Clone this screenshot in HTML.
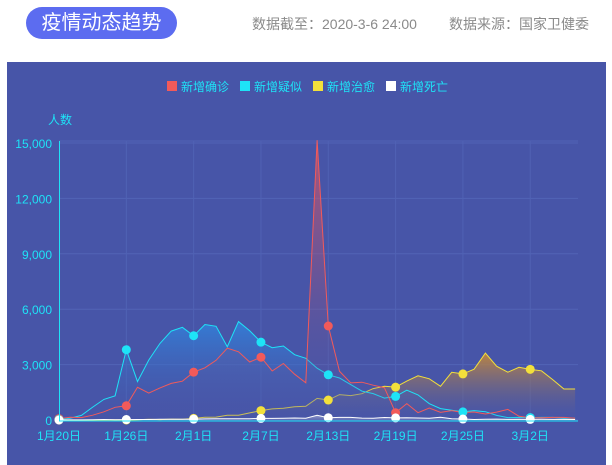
<!DOCTYPE html>
<html><head><meta charset="utf-8"><style>
body{margin:0;width:612px;height:465px;background:#fff;overflow:hidden;font-family:"Liberation Sans","Noto Sans CJK SC",sans-serif;position:relative}
.pill{position:absolute;left:26px;top:7px;width:151px;height:32px;border-radius:16px;background:#5c6cf0;color:#fff;font-size:20px;line-height:32px;text-align:center}
.info{position:absolute;top:14px;font-size:14px;color:#8a8a8a}
.panel{position:absolute;left:7px;top:62px;width:599px;height:403px;background:#4755a8}
svg{position:absolute;left:0;top:0}
</style></head><body>
<div class="pill">疫情动态趋势</div>
<div class="info" style="left:252px">数据截至：2020-3-6 24:00</div>
<div class="info" style="left:449px">数据来源：国家卫健委</div>
<div class="panel"></div>
<svg id="s" width="612" height="465" font-family="Liberation Sans, Noto Sans CJK SC, sans-serif"></svg>
<script>
const red=[77,149,131,259,444,688,769,1771,1459,1737,1982,2102,2590,2829,3235,3887,3694,3143,3399,2656,3062,2478,2015,15152,5090,2641,2009,2048,1886,1749,394,889,397,648,409,508,406,433,327,427,573,202,125,119,139,143,99];
const cyan=[27,100,250,700,1118,1309,3806,2077,3248,4148,4812,5019,4562,5173,5072,3971,5328,4833,4214,3916,4008,3536,3342,2807,2450,2277,1918,1563,1432,1185,1277,1614,1361,882,620,530,439,508,452,248,132,141,129,143,143,102,99];
const yel=[0,0,0,0,3,11,2,9,43,21,47,43,85,147,157,262,261,387,510,600,632,716,744,1171,1081,1373,1323,1425,1701,1824,1779,2109,2393,2231,1824,2581,2497,2752,3622,2913,2589,2853,2742,2664,2189,1681,1678];
const wht=[0,3,8,17,25,15,24,26,26,38,43,46,45,57,64,65,73,73,86,89,97,108,97,254,121,143,142,105,98,136,114,118,109,97,150,71,52,29,44,47,35,42,31,38,31,30,28];
const X=i=>59+i*11.22, Y=v=>420-v*277/15000;
let h='';
h+=`<defs>
<linearGradient id="gr" x1="0" y1="0" x2="0" y2="1"><stop offset="0" stop-color="#e25560" stop-opacity="0.7"/><stop offset="1" stop-color="#4755a8" stop-opacity="0.1"/></linearGradient>
<linearGradient id="gc" x1="0" y1="0" x2="0" y2="1"><stop offset="0" stop-color="#2f86e0" stop-opacity="0.8"/><stop offset="1" stop-color="#4755a8" stop-opacity="0.1"/></linearGradient>
<linearGradient id="gy" x1="0" y1="0" x2="0" y2="1"><stop offset="0" stop-color="#c98a35" stop-opacity="0.9"/><stop offset="1" stop-color="#4755a8" stop-opacity="0.2"/></linearGradient>
<linearGradient id="gw" x1="0" y1="0" x2="0" y2="1"><stop offset="0" stop-color="#fff" stop-opacity="0.4"/><stop offset="1" stop-color="#fff" stop-opacity="0.1"/></linearGradient></defs>`;
for(let k=0;k<=5;k++){const y=Y(k*3000);h+=`<line x1="59" x2="578" y1="${y}" y2="${y}" stroke="#5264b6" stroke-width="1"/>`;
h+=`<text x="52" y="${y+5}" text-anchor="end" font-size="12" fill="#1ee3f7">${(k*3000).toLocaleString('en-US')}</text>`;}
h+=`<line x1="59" x2="578" y1="141" y2="141" stroke="#5264b6"/>`;
const lab=['1月20日','1月26日','2月1日','2月7日','2月13日','2月19日','2月25日','3月2日'];
for(let k=0;k<8;k++){const x=X(k*6);if(k>0)h+=`<line x1="${x}" x2="${x}" y1="141" y2="420" stroke="#5062b4"/>`;
h+=`<text x="${x}" y="440" text-anchor="middle" font-size="12" fill="#1ee3f7">${lab[k]}</text>`;}
function ser(d,col,g){let p=d.map((v,i)=>`${X(i).toFixed(1)},${Y(v).toFixed(1)}`).join(' L');
h+=`<path d="M${X(0)},420 L${p} L${X(d.length-1)},420 Z" fill="url(#${g})"/>`;
h+=`<path d="M${p}" fill="none" stroke="${col}" stroke-width="1"/>`;}
function mk(d,col){for(let i=0;i<d.length;i+=6)h+=`<circle cx="${X(i)}" cy="${Y(d[i])}" r="4.5" fill="${col}"/>`;}
ser(yel,'#f3e03b','gy');ser(cyan,'#1ee3f7','gc');ser(red,'#f25a5a','gr');ser(wht,'#ffffff','gw');
mk(red,'#f25a5a');mk(cyan,'#1ee3f7');mk(yel,'#f3e03b');mk(wht,'#ffffff');
h+=`<line x1="59.5" x2="59.5" y1="141" y2="421" stroke="#1ee3f7"/><line x1="59" x2="578" y1="421" y2="421" stroke="#1ee3f7"/>`;
h+=`<text x="48" y="124" font-size="12" fill="#1ee3f7">人数</text>`;
const lg=[['新增确诊','#f25a5a',167],['新增疑似','#1ee3f7',240],['新增治愈','#f3e03b',313],['新增死亡','#ffffff',386]];
for(const [t,c,x] of lg){h+=`<rect x="${x}" y="81" width="10" height="10" fill="${c}"/><text x="${x+14}" y="91" font-size="12" fill="#1ee3f7">${t}</text>`;}
document.getElementById('s').innerHTML=h;
</script>
</body></html>
